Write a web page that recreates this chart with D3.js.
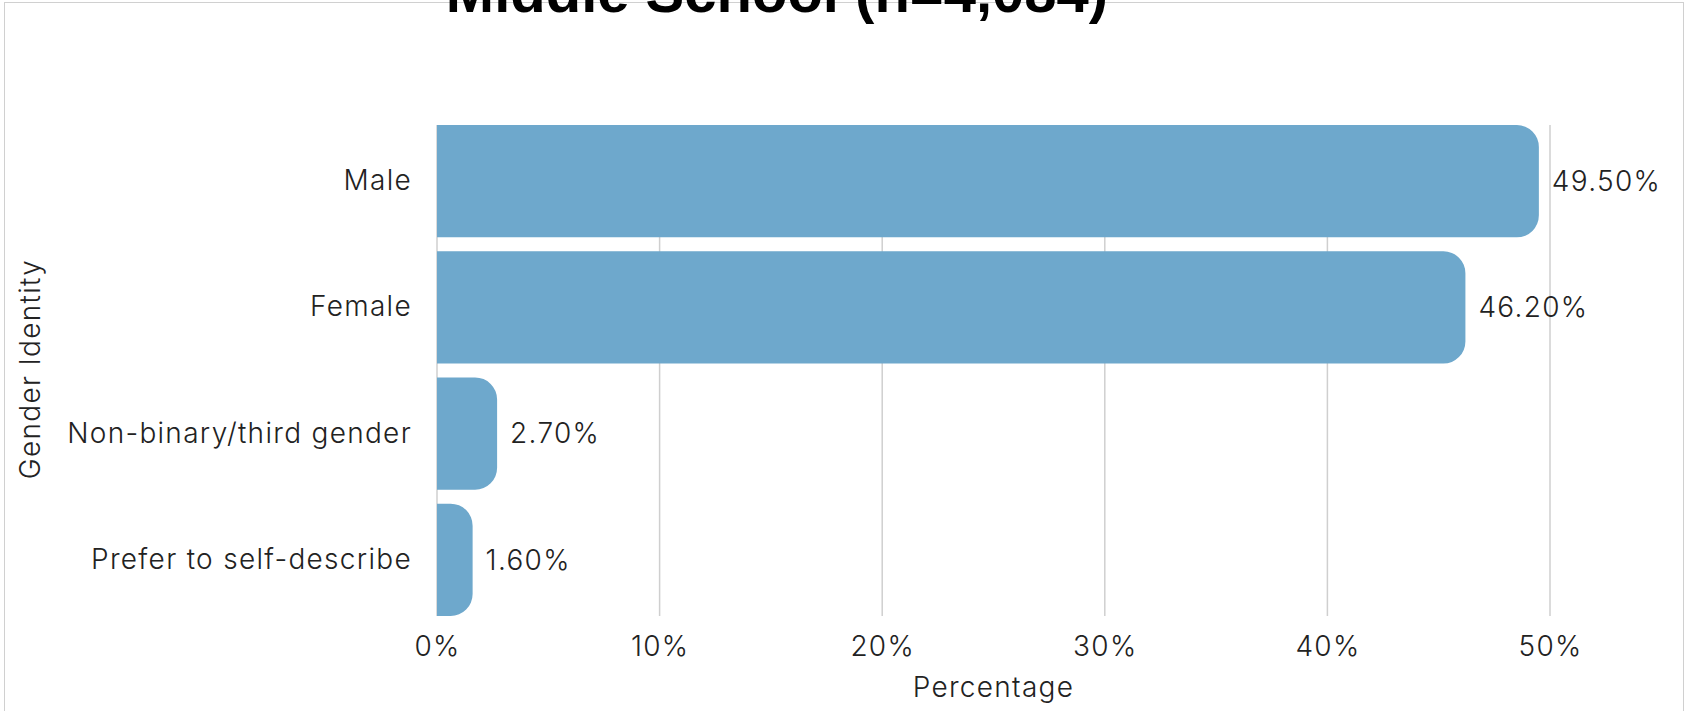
<!DOCTYPE html>
<html>
<head>
<meta charset="utf-8">
<script src="https://cdn.jsdelivr.net/npm/d3@7"></script>
<style>
  html, body { margin: 0; padding: 0; background: #fff; }
  svg { display: block; }
</style>
</head>
<body>
<svg id="chart" width="1688" height="711"></svg>
<script>
// Gender identity distribution, middle school respondents
const titleText = "Middle School (n=4,084)";
const categories = ["Male", "Female", "Non-binary/third gender", "Prefer to self-describe"];
const percentages = [49.5, 46.2, 2.7, 1.6];
const xTicks = [0, 10, 20, 30, 40, 50];
const xAxisTitle = "Percentage";
const yAxisTitle = "Gender Identity";

const W = 1688, H = 711;
const margin = { left: 437, right: 138, top: 125, bottom: 95 };
const barColor = "#6ea8cc";
const textColor = "#222";
const font = "Inter, 'Noto Sans', sans-serif";
const fontSize = 28;
const fontWeight = 300;
const tracking = 1.3;

const svg = d3.select("#chart");

// Panel frame
svg.append("rect")
  .attr("x", 4.5).attr("y", 2.5)
  .attr("width", W - 9).attr("height", H + 10)
  .attr("fill", "none").attr("stroke", "#d0d0d0").attr("stroke-width", 1);

const x = d3.scaleLinear().domain([0, 50]).range([margin.left, 1550]);
const y = d3.scaleBand().domain(categories)
  .range([margin.top, H - margin.bottom])
  .paddingInner(0.11).paddingOuter(0);

// Vertical gridlines
svg.append("g").selectAll("line")
  .data(xTicks)
  .join("line")
  .attr("x1", d => x(d)).attr("x2", d => x(d))
  .attr("y1", margin.top).attr("y2", H - margin.bottom)
  .attr("stroke", "#cfcfcf").attr("stroke-width", 1.5);

// Bars: square at the baseline, rounded at the value end
const r = 22;
function barPath(d, i) {
  const x0 = x(0), x1 = x(percentages[i]);
  const y0 = y(d), h = y.bandwidth();
  const rr = Math.min(r, x1 - x0, h / 2);
  return `M${x0},${y0}H${x1 - rr}A${rr},${rr} 0 0 1 ${x1},${y0 + rr}` +
         `V${y0 + h - rr}A${rr},${rr} 0 0 1 ${x1 - rr},${y0 + h}H${x0}Z`;
}
svg.append("g").selectAll("path")
  .data(categories)
  .join("path")
  .attr("d", barPath)
  .attr("fill", barColor);

function styleText(sel) {
  return sel.attr("font-family", font).attr("font-size", fontSize)
    .attr("font-weight", fontWeight).attr("fill", textColor)
    .attr("letter-spacing", tracking);
}

// Value labels
svg.append("g").selectAll("text")
  .data(categories)
  .join("text")
  .attr("x", (d, i) => x(percentages[i]) + 13)
  .attr("y", d => y(d) + y.bandwidth() / 2)
  .attr("dy", "0.35em")
  .call(styleText)
  .text((d, i) => percentages[i].toFixed(2) + "%");

// Y axis (category labels)
const yAxis = svg.append("g")
  .attr("transform", `translate(${margin.left},0)`)
  .call(d3.axisLeft(y).tickSize(0).tickPadding(25));
yAxis.select(".domain").remove();
yAxis.selectAll("text").call(styleText);

// X axis (tick labels)
const xAxis = svg.append("g")
  .attr("transform", `translate(0,${H - margin.bottom})`)
  .call(d3.axisBottom(x).tickValues(xTicks).tickSize(0).tickPadding(20)
    .tickFormat(d => d + "%"));
xAxis.select(".domain").remove();
xAxis.selectAll("text").call(styleText);

// Axis titles
svg.append("text")
  .attr("x", (x(0) + x(50)) / 2).attr("y", 687)
  .attr("dy", "0.35em").attr("text-anchor", "middle")
  .call(styleText)
  .text(xAxisTitle);

svg.append("text")
  .attr("transform", `translate(30,369) rotate(-90)`)
  .attr("dy", "0.35em").attr("text-anchor", "middle")
  .call(styleText)
  .text(yAxisTitle);

// Title (partly above the panel edge)
svg.append("text")
  .attr("x", 777).attr("y", 12)
  .attr("text-anchor", "middle")
  .attr("font-family", "'Liberation Sans', Arial, sans-serif")
  .attr("font-weight", "bold").attr("font-size", 58)
  .attr("fill", "#000")
  .text(titleText);
</script>
</body>
</html>
